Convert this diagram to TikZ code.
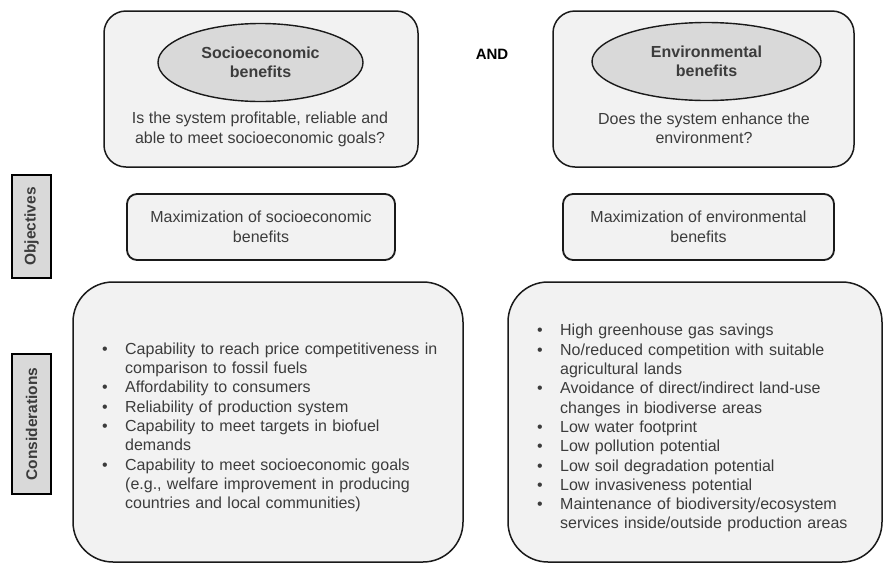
\documentclass[tikz,border=0pt]{standalone}
\usepackage{fontspec}
\setmainfont{Liberation Sans}
\usetikzlibrary{shapes.geometric}

\definecolor{ink}{HTML}{1A1A1A}
\definecolor{txt}{HTML}{3C3C3C}
\definecolor{panelfill}{HTML}{F2F2F2}
\definecolor{goalfill}{HTML}{D9D9D9}

% one bulleted entry with a hanging indent
\newcommand{\bulletentry}[1]{\par\noindent\hangindent=23pt\hangafter=1\makebox[23pt][l]{\textbullet}#1}

\tikzset{
  panel/.style={draw=ink, line width=1.5pt, fill=panelfill, rounded corners=22pt,
    minimum width=314pt, minimum height=156pt, inner sep=0pt},
  goal/.style={ellipse, draw=ink, line width=1.4pt, fill=goalfill, inner sep=0pt,
    text=txt, align=center, font=\fontsize{16}{19}\selectfont\bfseries},
  question/.style={text=txt, align=center, inner sep=0pt,
    font=\fontsize{16}{19.5}\selectfont},
  aim/.style={draw=ink, line width=1.8pt, fill=panelfill, rounded corners=10pt,
    minimum width=268pt, minimum height=66pt, inner sep=0pt, text=txt, align=center,
    font=\fontsize{16}{20}\selectfont},
  consid/.style={draw=ink, line width=1.5pt, fill=panelfill, rounded corners=40pt,
    minimum height=280pt, inner sep=0pt},
  listtext/.style={text=txt, inner sep=0pt,
    font=\fontsize{16}{19.3}\selectfont\raggedright},
  tag/.style={draw=black, line width=2.4pt, fill=goalfill, rotate=90, inner sep=0pt,
    minimum height=39pt, text=txt, font=\fontsize{15.5}{18}\selectfont\bfseries},
}

\begin{document}
\begin{tikzpicture}[x=1pt, y=-1pt]
  \useasboundingbox (0,0) rectangle (884,563);

  % top row: the two benefit panels
  \node[panel] (socioPanel) at (261,89) {};
  \node[panel, minimum width=301pt] (envPanel) at (703.5,89) {};
  \node[goal, minimum width=205pt, minimum height=78pt] (socioGoal) at (260.5,62.5)
    {Socioeconomic\\benefits};
  \node[goal, minimum width=229pt, minimum height=78pt] (envGoal) at (706.5,61.5)
    {Environmental\\benefits};
  \node[question] (socioQ) at (260,129.5)
    {Is the system profitable, reliable and\\able to meet socioeconomic goals?};
  \node[question] (envQ) at (704,128.5)
    {Does the system enhance the\\environment?};
  \node[text=black, font=\fontsize{15}{18}\selectfont\bfseries] (andWord) at (492,54) {AND};

  % objectives row
  \node[aim] (socioAim) at (261,227) {Maximization of socioeconomic\\benefits};
  \node[aim, minimum width=271pt] (envAim) at (698.5,227) {Maximization of environmental\\benefits};

  % considerations row
  \node[consid, minimum width=390pt] (socioBox) at (268,422) {};
  \node[consid, minimum width=374pt] (envBox) at (695,422) {};

  \node[listtext, text width=350pt, anchor=west] (socioList) at (102,423.5) {%
    \bulletentry{Capability to reach price competitiveness in\newline comparison to fossil fuels}%
    \bulletentry{Affordability to consumers}%
    \bulletentry{Reliability of production system}%
    \bulletentry{Capability to meet targets in biofuel\newline demands}%
    \bulletentry{Capability to meet socioeconomic goals\newline (e.g., welfare improvement in producing\newline countries and local communities)}\par};

  \node[listtext, text width=330pt, anchor=west] (envList) at (537,424.5) {%
    \bulletentry{High greenhouse gas savings}%
    \bulletentry{No/reduced competition with suitable\newline agricultural lands}%
    \bulletentry{Avoidance of direct/indirect land-use\newline changes in biodiverse areas}%
    \bulletentry{Low water footprint}%
    \bulletentry{Low pollution potential}%
    \bulletentry{Low soil degradation potential}%
    \bulletentry{Low invasiveness potential}%
    \bulletentry{Maintenance of biodiversity/ecosystem\newline services inside/outside production areas}\par};

  % row labels on the left
  \node[tag, minimum width=103pt] (objTag) at (31.5,226.5) {Objectives};
  \node[tag, minimum width=140pt] (conTag) at (31.5,424) {Considerations};
\end{tikzpicture}
\end{document}
